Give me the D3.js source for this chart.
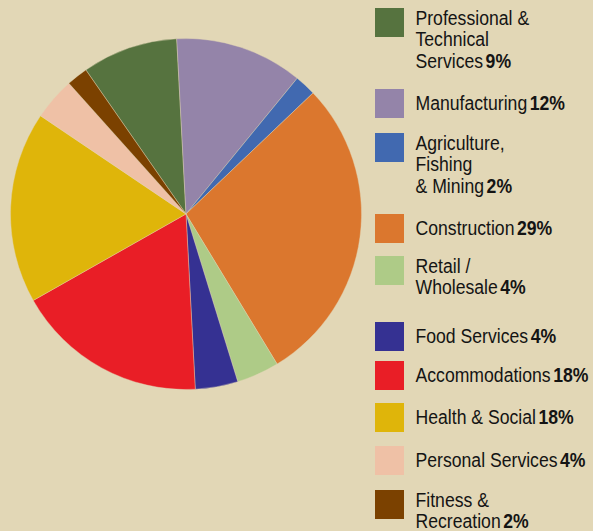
<!DOCTYPE html>
<html>
<head>
<meta charset="utf-8">
<script src="https://cdn.jsdelivr.net/npm/d3@7"></script>
<style>
  html, body { margin: 0; padding: 0; background: #e2d7b6; }
  svg { display: block; }
  .lbl { font-family: "Liberation Sans", Arial, sans-serif; font-size: 21px; fill: #141414; }
</style>
</head>
<body>
<svg id="chart" width="593" height="531"></svg>
<script>
// sectors, in drawing order (clockwise)
const sectors = ["Professional & Technical Services", "Manufacturing", "Agriculture, Fishing & Mining",
  "Construction", "Retail / Wholesale", "Food Services", "Accommodations", "Health & Social",
  "Personal Services", "Fitness & Recreation"];
const shares = [9, 12, 2, 29, 4, 4, 18, 18, 4, 2];
// how each legend label is broken into lines
const labelLines = [
  ["Professional &", "Technical", "Services"],
  ["Manufacturing"],
  ["Agriculture,", "Fishing", "& Mining"],
  ["Construction"],
  ["Retail /", "Wholesale"],
  ["Food Services"],
  ["Accommodations"],
  ["Health & Social"],
  ["Personal Services"],
  ["Fitness &", "Recreation"]
];
const colors = ["#56733f", "#9484a9", "#4169b0", "#db772e", "#aecb87", "#353192",
  "#e91e26", "#dfb50a", "#efc1a6", "#7b4100"];

const svg = d3.select("#chart");
const cx = 186, cy = 214, radius = 175.5;

const color = d3.scaleOrdinal().domain(sectors).range(colors);

const pie = d3.pie()
  .sort(null)
  .startAngle(-34.8 * Math.PI / 180)
  .endAngle((360 - 34.8) * Math.PI / 180)
  .value((d, i) => shares[i]);

const arc = d3.arc().innerRadius(0).outerRadius(radius);

svg.append("g")
  .attr("transform", `translate(${cx},${cy})`)
  .selectAll("path")
  .data(pie(sectors))
  .join("path")
  .attr("d", arc)
  .attr("fill", d => color(d.data))
  .attr("stroke", "#e2d7b6")
  .attr("stroke-width", 0.4);

// legend
const legendTops = [8, 89, 133, 214, 256, 322, 361, 403, 446, 490];
const lineH = 21.5;
const squeeze = 0.84; // condensed look
const legend = svg.append("g");

sectors.forEach((s, i) => {
  const top = legendTops[i];
  const lines = labelLines[i];
  legend.append("rect")
    .attr("x", 375).attr("y", top)
    .attr("width", 29).attr("height", 29)
    .attr("fill", color(s));
  const first = lines.length === 1 ? top + 21.5 : top + 17;
  const t = legend.append("text").attr("class", "lbl")
    .attr("transform", `translate(415.5,0) scale(${squeeze},1)`);
  lines.forEach((ln, j) => {
    t.append("tspan").attr("x", 0).attr("y", first + j * lineH).text(ln);
    if (j === lines.length - 1) {
      t.append("tspan").attr("font-weight", "bold").attr("dx", 3).text(shares[i] + "%");
    }
  });
});
</script>
</body>
</html>
